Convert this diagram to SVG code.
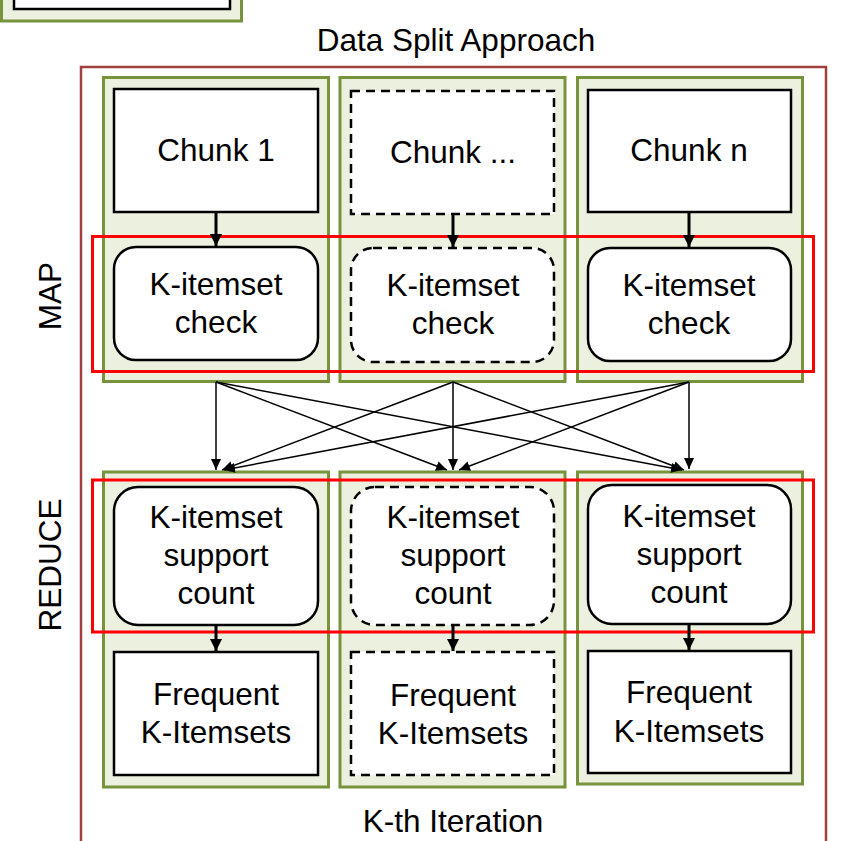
<svg xmlns="http://www.w3.org/2000/svg" width="846" height="841" viewBox="0 0 846 841">
  <style>
    .lane { fill: #EBF1DE; stroke: #77933C; stroke-width: 3; }
    .box { fill: #FFFFFF; stroke: #000000; stroke-width: 2.5; }
    .dash { stroke-dasharray: 9 6; }
    .phase { fill: none; stroke: #FF0000; stroke-width: 3; }
    .frame { fill: none; stroke: #A0403C; stroke-width: 2.5; }
    .lbl { font-family: "Liberation Sans", Arial, sans-serif; font-size: 31.5px; fill: #000000; text-anchor: middle; }
    .flow { stroke: #000000; stroke-width: 3; fill: none; }
    .cross { stroke: #000000; stroke-width: 1.5; fill: none; }
  </style>
  <defs>
    <marker id="headBig" markerUnits="userSpaceOnUse" markerWidth="12" markerHeight="14" refX="12" refY="6" orient="auto">
      <path d="M0,0 L12,6 L0,12 Z" fill="#000000"/>
    </marker>
    <marker id="headSmall" markerUnits="userSpaceOnUse" markerWidth="11" markerHeight="10" refX="11" refY="5" orient="auto">
      <path d="M0,0 L11,5 L0,10 Z" fill="#000000"/>
    </marker>
  </defs>

  <rect width="846" height="841" fill="#FFFFFF"/>

  <!-- previous iteration block, cut at the top edge -->
  <g id="prev-block">
    <rect class="lane" x="1.5" y="-30" width="240" height="51"/>
    <rect class="box" x="14" y="-30" width="216" height="39"/>
  </g>

  <!-- outer frame for the K-th iteration -->
  <g id="iteration-frame">
    <rect class="frame" x="81" y="67" width="745" height="800"/>
    <text class="lbl" x="456" y="51">Data Split Approach</text>
    <text class="lbl" x="453" y="832">K-th Iteration</text>
  </g>

  <!-- column lanes -->
  <g id="lanes">
    <rect class="lane" x="103.5" y="77.5" width="225" height="304"/>
    <rect class="lane" x="340" y="77.5" width="225" height="304"/>
    <rect class="lane" x="577.5" y="77.5" width="225" height="304"/>
    <rect class="lane" x="103.5" y="472" width="225" height="315"/>
    <rect class="lane" x="340" y="472" width="225" height="315"/>
    <rect class="lane" x="577.5" y="472" width="225" height="312"/>
  </g>

  <!-- data chunks -->
  <g id="chunk-1">
    <rect class="box" x="114" y="89" width="204" height="123"/>
    <text class="lbl" x="216" y="161">Chunk 1</text>
  </g>
  <g id="chunk-mid">
    <rect class="box dash" x="351" y="91" width="203" height="123"/>
    <text class="lbl" x="453" y="163">Chunk ...</text>
  </g>
  <g id="chunk-n">
    <rect class="box" x="588" y="90" width="203" height="122"/>
    <text class="lbl" x="689" y="161">Chunk n</text>
  </g>

  <!-- map tasks -->
  <g id="check-1">
    <rect class="box" x="114" y="247" width="204" height="113" rx="22"/>
    <text class="lbl" x="216" y="295">K-itemset</text>
    <text class="lbl" x="216" y="333">check</text>
  </g>
  <g id="check-mid">
    <rect class="box dash" x="351" y="248" width="203" height="114" rx="22"/>
    <text class="lbl" x="453" y="296">K-itemset</text>
    <text class="lbl" x="453" y="334">check</text>
  </g>
  <g id="check-n">
    <rect class="box" x="588" y="248" width="203" height="113" rx="22"/>
    <text class="lbl" x="689" y="296">K-itemset</text>
    <text class="lbl" x="689" y="334">check</text>
  </g>

  <!-- reduce tasks -->
  <g id="count-1">
    <rect class="box" x="114" y="487" width="204" height="138" rx="24"/>
    <text class="lbl" x="216" y="528">K-itemset</text>
    <text class="lbl" x="216" y="566">support</text>
    <text class="lbl" x="216" y="604">count</text>
  </g>
  <g id="count-mid">
    <rect class="box dash" x="351" y="487" width="203" height="138" rx="24"/>
    <text class="lbl" x="453" y="528">K-itemset</text>
    <text class="lbl" x="453" y="566">support</text>
    <text class="lbl" x="453" y="604">count</text>
  </g>
  <g id="count-n">
    <rect class="box" x="588" y="485" width="203" height="139" rx="24"/>
    <text class="lbl" x="689" y="527">K-itemset</text>
    <text class="lbl" x="689" y="565">support</text>
    <text class="lbl" x="689" y="603">count</text>
  </g>

  <!-- results -->
  <g id="frequent-1">
    <rect class="box" x="114" y="652" width="204" height="123"/>
    <text class="lbl" x="216" y="705">Frequent</text>
    <text class="lbl" x="216" y="743">K-Itemsets</text>
  </g>
  <g id="frequent-mid">
    <rect class="box dash" x="351" y="652" width="203" height="123"/>
    <text class="lbl" x="453" y="706">Frequent</text>
    <text class="lbl" x="453" y="744">K-Itemsets</text>
  </g>
  <g id="frequent-n">
    <rect class="box" x="588" y="651" width="203" height="122"/>
    <text class="lbl" x="689" y="703">Frequent</text>
    <text class="lbl" x="689" y="742">K-Itemsets</text>
  </g>

  <!-- phase bands -->
  <g id="map-phase">
    <rect class="phase" x="92.5" y="236.5" width="721" height="135"/>
    <text class="lbl" transform="translate(61,296) rotate(-90)">MAP</text>
  </g>
  <g id="reduce-phase">
    <rect class="phase" x="92.5" y="480" width="721" height="152"/>
    <text class="lbl" transform="translate(61,565) rotate(-90)">REDUCE</text>
  </g>

  <!-- connectors -->
  <g id="connectors">
    <line class="flow" x1="216" y1="212" x2="216" y2="246" marker-end="url(#headBig)"/>
    <line class="flow" x1="453" y1="214" x2="453" y2="247" marker-end="url(#headBig)"/>
    <line class="flow" x1="689" y1="212" x2="689" y2="247" marker-end="url(#headBig)"/>

    <line class="cross" x1="216" y1="382" x2="216" y2="470" marker-end="url(#headSmall)"/>
    <line class="cross" x1="216" y1="382" x2="447" y2="470" marker-end="url(#headSmall)"/>
    <line class="cross" x1="216" y1="382" x2="682" y2="470" marker-end="url(#headSmall)"/>
    <line class="cross" x1="453" y1="382" x2="222" y2="470" marker-end="url(#headSmall)"/>
    <line class="cross" x1="453" y1="382" x2="453" y2="470" marker-end="url(#headSmall)"/>
    <line class="cross" x1="453" y1="382" x2="684" y2="470" marker-end="url(#headSmall)"/>
    <line class="cross" x1="689" y1="382" x2="224" y2="470" marker-end="url(#headSmall)"/>
    <line class="cross" x1="689" y1="382" x2="459" y2="470" marker-end="url(#headSmall)"/>
    <line class="cross" x1="689" y1="382" x2="689" y2="469" marker-end="url(#headSmall)"/>

    <line class="flow" x1="216" y1="625" x2="216" y2="651" marker-end="url(#headBig)"/>
    <line class="flow" x1="453" y1="625" x2="453" y2="651" marker-end="url(#headBig)"/>
    <line class="flow" x1="689" y1="624" x2="689" y2="650" marker-end="url(#headBig)"/>
  </g>
</svg>
